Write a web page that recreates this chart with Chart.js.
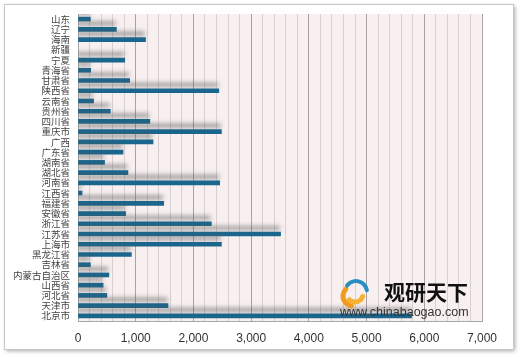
<!DOCTYPE html>
<html>
<head>
<meta charset="utf-8">
<script src="https://cdn.jsdelivr.net/npm/chart.js@4/dist/chart.umd.min.js"></script>
<style>
html,body{margin:0;padding:0;background:#fff;}
#wrap{position:relative;width:520px;height:357px;}
</style>
</head>
<body>
<div id="wrap"><canvas id="c" width="520" height="357"></canvas></div>
<script>
// ---- data ----
const categories = ['山东','辽宁','海南','新疆','宁夏','青海省','甘肃省','陕西省','云南省','贵州省','四川省','重庆市','广西','广东省','湖南省','湖北省','河南省','江西省','福建省','安徽省','浙江省','江苏省','上海市','黑龙江省','吉林省','内蒙古自治区','山西省','河北省','天津市','北京市'];
const values = [215, 665, 1170, null, 810, 220, 895, 2440, 270, 560, 1245, 2485, 1300, 780, 460, 865, 2455, 70, 1485, 825, 2310, 3510, 2485, 925, 215, 535, 435, 500, 1560, 5780];
const xMin = 0, xMax = 7000, minorStep = 200, majorStep = 1000;
const watermarkTitle = '观研天下';
const watermarkUrl = 'www.chinabaogao.com';

const framePlugin = {
  id: 'frame',
  beforeDraw(chart) {
    const ctx = chart.ctx;
    ctx.save();
    ctx.fillStyle = '#ffffff';
    ctx.fillRect(0, 0, chart.width, chart.height);
    ctx.shadowColor = 'rgba(0,0,0,0.35)';
    ctx.shadowBlur = 4;
    ctx.shadowOffsetX = 2;
    ctx.shadowOffsetY = 2;
    ctx.fillStyle = '#ffffff';
    ctx.fillRect(4, 4, 509, 345);
    ctx.shadowColor = 'transparent';
    ctx.strokeStyle = '#c8c8c8';
    ctx.lineWidth = 1;
    ctx.strokeRect(4.5, 4.5, 509, 345);
    const a = chart.chartArea;
    ctx.fillStyle = '#f8f0f0';
    ctx.fillRect(a.left, a.top, a.right - a.left, a.bottom - a.top);
    ctx.restore();
  },
  afterDraw(chart) {
    const ctx = chart.ctx;
    ctx.save();
    ctx.lineCap = 'round';
    ctx.strokeStyle = '#f29a1f';
    ctx.lineWidth = 5;
    ctx.beginPath();
    ctx.arc(353, 296, 10, Math.PI * 0.55, Math.PI * 1.25);
    ctx.stroke();
    ctx.strokeStyle = '#f6b233';
    ctx.beginPath();
    ctx.arc(355, 294, 8, Math.PI * 0.1, Math.PI * 0.75);
    ctx.stroke();
    ctx.strokeStyle = '#2a8fc0';
    ctx.lineWidth = 4;
    ctx.beginPath();
    ctx.arc(356, 292, 11, Math.PI * 1.2, Math.PI * 1.95);
    ctx.stroke();
    ctx.fillStyle = '#111';
    ctx.font = 'bold 21px "Noto Sans CJK SC"';
    ctx.textBaseline = 'middle';
    ctx.textAlign = 'left';
    ctx.fillText(watermarkTitle, 384, 292);
    ctx.fillStyle = '#333';
    ctx.font = '12.5px "Liberation Sans"';
    ctx.fillText(watermarkUrl, 340, 313);
    ctx.restore();
  }
};

const shadowPlugin = {
  id: 'barShadow',
  beforeDatasetDraw(chart) {
    const ctx = chart.ctx;
    ctx.save();
    ctx.shadowColor = 'rgba(90,90,90,0.5)';
    ctx.shadowBlur = 4;
    ctx.shadowOffsetX = -1;
    ctx.shadowOffsetY = -6;
  },
  afterDatasetDraw(chart) {
    chart.ctx.restore();
  }
};

new Chart(document.getElementById('c'), {
  type: 'bar',
  data: {
    labels: categories,
    datasets: [{
      data: values,
      backgroundColor: '#1a668c',
      borderWidth: 0,
      barThickness: 4
    }]
  },
  options: {
    indexAxis: 'y',
    responsive: false,
    animation: false,
    devicePixelRatio: 1,
    layout: { padding: { left: 0, right: 38, top: 14, bottom: 6 } },
    plugins: { legend: { display: false }, tooltip: { enabled: false } },
    scales: {
      x: {
        min: xMin, max: xMax,
        ticks: {
          stepSize: minorStep,
          autoSkip: false,
          maxRotation: 0,
          padding: 10,
          color: '#333',
          font: { family: '"Liberation Sans", sans-serif', size: 12 },
          callback: (v) => (v % majorStep === 0 ? v.toLocaleString('en-US') : '')
        },
        grid: {
          drawTicks: false,
          color: (c) => (c.tick && c.tick.value % majorStep === 0 ? '#aaa2a2' : '#d8d0d0'),
          lineWidth: 1
        },
        border: { color: '#a8a8a8' },
        afterFit: (s) => { s.height = 30; }
      },
      y: {
        ticks: {
          autoSkip: false,
          padding: 8,
          color: '#444',
          font: { family: '"Noto Sans CJK SC", sans-serif', size: 9.5 }
        },
        grid: { display: false, drawTicks: false },
        border: { color: '#a8a8a8' },
        afterFit: (s) => { s.width = 78; }
      }
    }
  },
  plugins: [framePlugin, shadowPlugin]
});
</script>
</body>
</html>
